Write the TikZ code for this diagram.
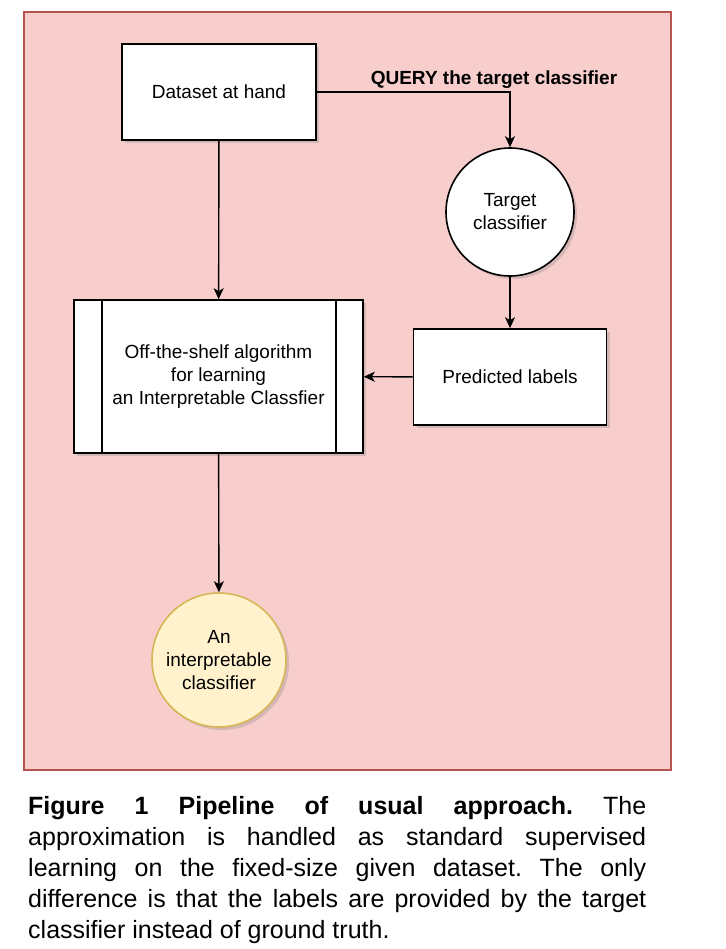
\documentclass[tikz,border=0pt]{standalone}
\usepackage{fontspec}
\setmainfont{Liberation Sans}
\usetikzlibrary{arrows.meta,shadows,positioning}

\definecolor{bgpink}{HTML}{F8CECC}
\definecolor{bgred}{HTML}{B85450}
\definecolor{leafyellow}{HTML}{FFF2CC}
\definecolor{leafgold}{HTML}{D6B656}

\tikzset{
  box/.style={draw,fill=white,line width=1.6pt,
    drop shadow={shadow xshift=3pt,shadow yshift=-3pt,opacity=.3},
    font=\fontsize{19}{23}\selectfont,align=center},
  disc/.style={box,circle,inner sep=0pt},
  flow/.style={-{Stealth[length=11pt,width=10pt,inset=3pt]},line width=1.4pt}
}

\begin{document}
\begin{tikzpicture}[x=1pt,y=-1pt]
    \useasboundingbox (0,0) rectangle (725,949);
    \fill[bgpink,draw=bgred,line width=2pt] (24,12) rectangle (671,770);

    \node[box,minimum width=194pt,minimum height=96pt] (data) at (219,92) {Dataset at hand};
    \node[disc,minimum size=128pt] (target) at (510,212) {Target\\classifier};
    \node[box,minimum width=193pt,minimum height=96pt] (pred) at (510,377) {Predicted labels};
    \node[box,minimum width=289pt,minimum height=153pt] (algo) at (218.5,376.5)
      {Off-the-shelf algorithm\\for learning\\an Interpretable Classfier};
    \draw[line width=1.6pt] ([xshift=29pt]algo.north west) -- ([xshift=29pt]algo.south west);
    \draw[line width=1.6pt] ([xshift=-28pt]algo.north east) -- ([xshift=-28pt]algo.south east);
    \node[disc,minimum size=134pt,fill=leafyellow,draw=leafgold] (leaf) at (219,660)
      {An\\interpretable\\classifier};

    \node[font=\fontsize{19}{23}\selectfont\bfseries] (query) at (494,80) {QUERY the target classifier};

    \path[flow]
    (data) edge (algo)
    (target) edge (pred)
    (pred) edge (algo)
    (algo) edge (leaf);
    \draw[flow] (data.east) -| (target.north);

    % caption
    \node[anchor=north west,inner sep=0pt,text width=618pt,align=justify,
      font=\fontsize{25}{31}\selectfont] (caption) at (28,796)
      {\frenchspacing\hyphenpenalty=10000\textbf{Figure 1 Pipeline of usual approach.} The\linebreak
       approximation is handled as standard supervised\linebreak
       learning on the fixed-size given dataset. The only\linebreak
       difference is that the labels are provided by the target\linebreak
       classifier instead of ground truth.};
  \end{tikzpicture}
\end{document}
